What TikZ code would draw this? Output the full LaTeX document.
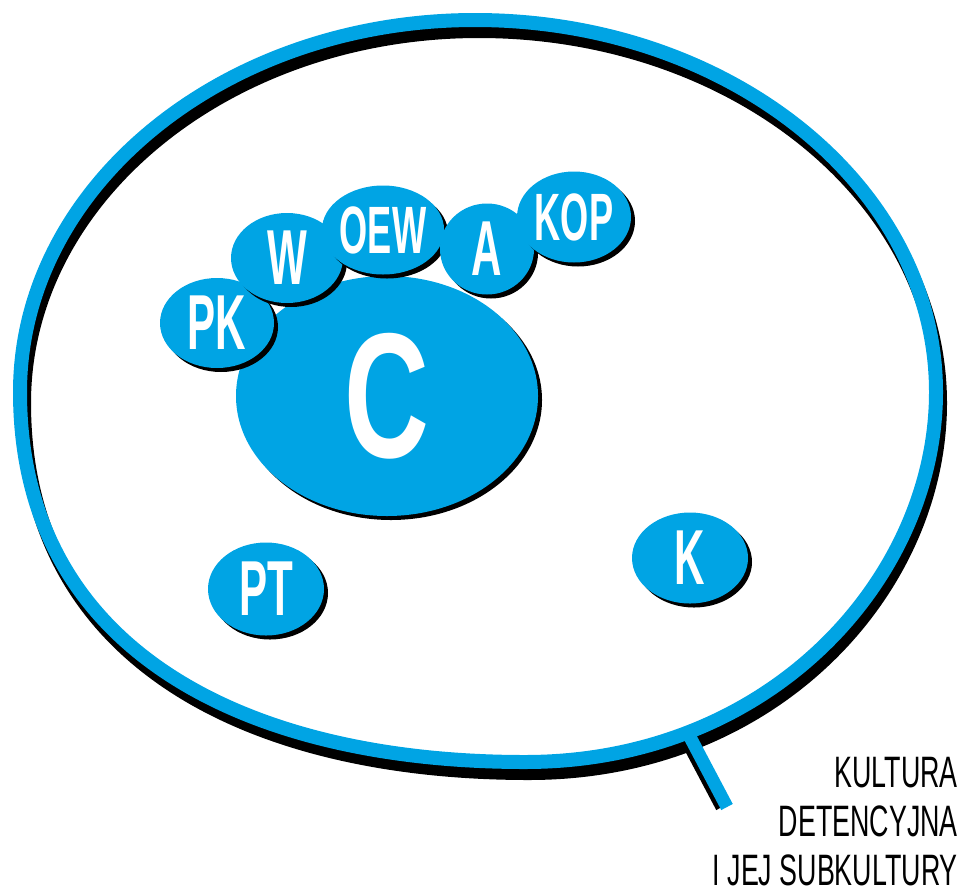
\documentclass[tikz,border=0pt]{standalone}
\usepackage{fontspec}
\usetikzlibrary{shapes.geometric,shadows}
\newfontfamily\labelfont[FakeStretch=0.54]{Liberation Sans}
\newfontfamily\bigfont[FakeStretch=0.66]{Liberation Sans}
\newfontfamily\captionfont[FakeStretch=0.61]{Liberation Sans}
\definecolor{bubbleblue}{RGB}{0,164,228}

\begin{document}
\begin{tikzpicture}[x=1pt,y=-1pt,
  bubble/.style={ellipse, fill=bubbleblue, inner sep=0pt, text=white,
    drop shadow={fill=black, opacity=1, shadow xshift=4pt, shadow yshift=-4pt}},
  midlabel/.style={font=\labelfont\bfseries\fontsize{78}{78}\selectfont},
  smalllabel/.style={font=\labelfont\bfseries\fontsize{67}{67}\selectfont},
  ringline/.style={line width=14pt},
  tailline/.style={line width=13pt, line cap=butt}]
\useasboundingbox (0,0) rectangle (960,892);

% outer speech bubble: black offset copy first, then the blue outline
\draw[ringline, black, shift={(4,11)}]
  (475,20) .. controls (729.6,20) and (936,186.5) .. (936,392)
  .. controls (936,577) and (772,762) .. (525,762)
  .. controls (247,762) and (20,651) .. (20,392)
  .. controls (20,186.5) and (223.7,20) .. (475,20) -- cycle;

\coordinate (tailroot) at (690,737);
\coordinate (tailend) at (727,807);
\draw[tailline, black] ([xshift=-5pt]tailroot) -- ([xshift=-5pt]tailend);

\draw[ringline, bubbleblue]
  (475,20) .. controls (729.6,20) and (936,186.5) .. (936,392)
  .. controls (936,577) and (772,762) .. (525,762)
  .. controls (247,762) and (20,651) .. (20,392)
  .. controls (20,186.5) and (223.7,20) .. (475,20) -- cycle;
\draw[tailline, bubbleblue] (tailroot) -- (tailend);

% central cluster
\node[bubble, minimum width=302pt, minimum height=240pt,
      font=\bigfont\bfseries\fontsize{178}{178}\selectfont] (c) at (387,396) {C};
\node[bubble, midlabel, minimum width=114pt, minimum height=90pt] (pk) at (217,323) {PK};
\node[bubble, midlabel, minimum width=112pt, minimum height=90pt] (w) at (287,258) {W};
\node[bubble, smalllabel, minimum width=106pt, minimum height=89pt] (oew) at (383,230) {OEW};
\node[bubble, midlabel, minimum width=94pt, minimum height=91pt] (a) at (487,249) {A};
\node[bubble, smalllabel, minimum width=114pt, minimum height=91pt] (kop) at (574,217) {KOP};

% separate bubbles
\node[bubble, midlabel, minimum width=116pt, minimum height=93pt] (pt) at (266,589) {PT};
\node[bubble, midlabel, minimum width=116pt, minimum height=91pt] (k) at (690,558) {K};

% caption
\node[anchor=north east, align=right, inner sep=0pt, text=black,
      font=\captionfont\fontsize{44}{49}\selectfont] (title) at (958,757)
  {KULTURA\\DETENCYJNA\\I JEJ SUBKULTURY};
\end{tikzpicture}
\end{document}
